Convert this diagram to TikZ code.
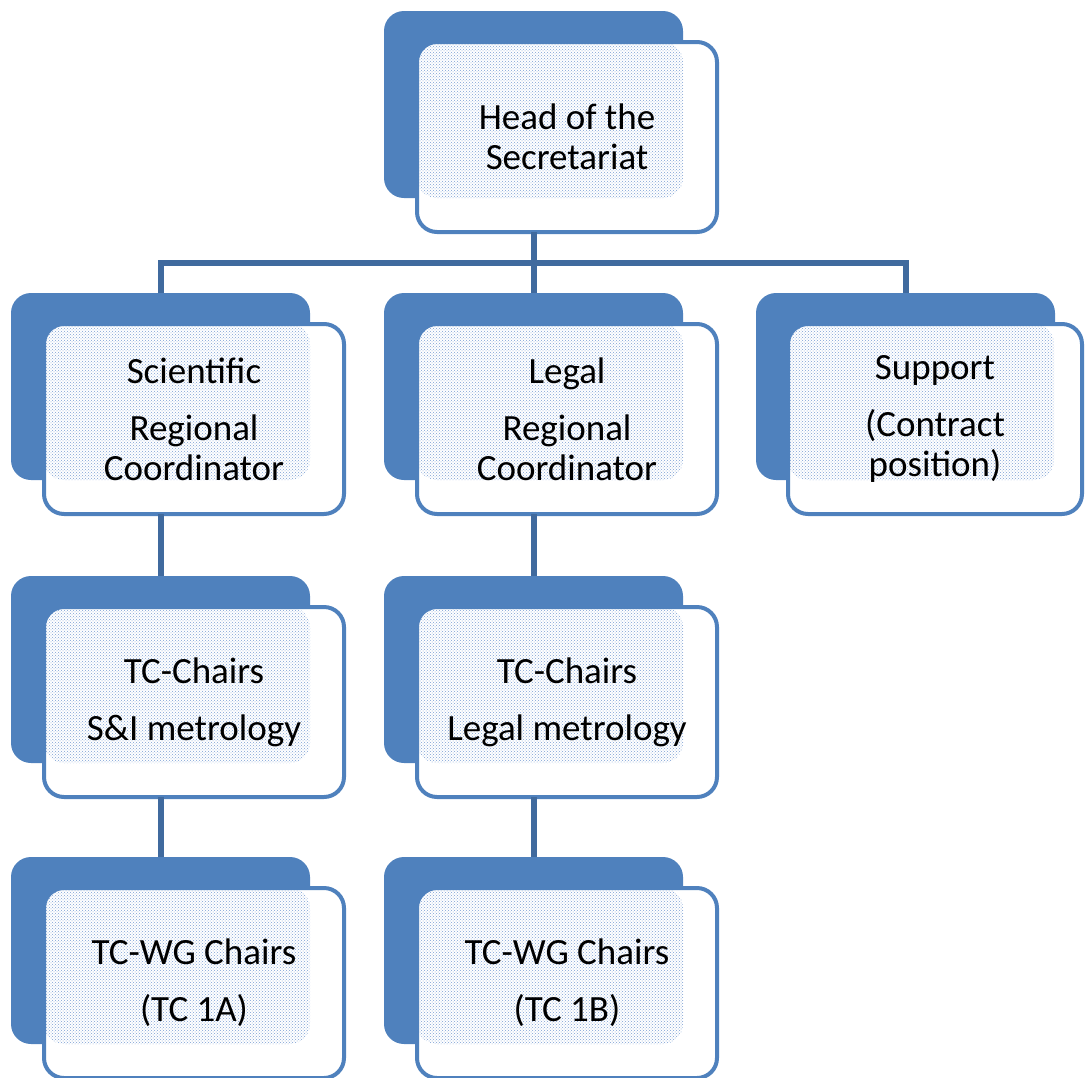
\documentclass[tikz,border=0pt]{standalone}
\usepackage{fontspec}
\setmainfont{Carlito}
\usetikzlibrary{patterns}

\definecolor{boxblue}{RGB}{79,129,189}
\definecolor{linkblue}{RGB}{64,106,158}
\definecolor{dotblue}{RGB}{125,160,212}

\tikzset{
    backbox/.style={fill=boxblue, rounded corners=20pt, minimum width=299pt, minimum height=187pt, inner sep=0pt, outer sep=0pt, anchor=north west},
    frontbox/.style={draw=boxblue, line width=4pt, fill=white, rounded corners=20pt, minimum width=300pt, minimum height=190pt, inner sep=0pt, outer sep=0pt, anchor=north west, align=center, font=\fontsize{37}{40}\selectfont,
        path picture={\fill[pattern=crosshatch dots, pattern color=dotblue, rounded corners=20pt] (path picture bounding box.north west) rectangle ++(266pt,-156pt);}},
    link/.style={draw=linkblue, line width=6pt},
}

\begin{document}
\begin{tikzpicture}[x=1pt, y=-1pt]
        \useasboundingbox (0,0) rectangle (1085,1077);
        % top
        \node[backbox] (headb) at (384,11) {};
        \node[frontbox] (head) at (417,42) {Head of the\\Secretariat};
        % second row
        \node[backbox] (scib) at (11,293) {};
        \node[frontbox] (sci) at (44,324) {Scientific\\[17pt]Regional\\Coordinator};
        \node[backbox] (legalb) at (384,293) {};
        \node[frontbox] (legal) at (417,324) {Legal\\[17pt]Regional\\Coordinator};
        \node[backbox] (suppb) at (756,293) {};
        \node[frontbox, minimum width=294pt] (supp) at (788,324) {Support\\[17pt](Contract\\position)};
        % third row
        \node[backbox] (tcsib) at (11,576) {};
        \node[frontbox] (tcsi) at (44,607) {TC-Chairs\\[17pt]S\&I metrology};
        \node[backbox] (tclmb) at (384,576) {};
        \node[frontbox] (tclm) at (417,607) {TC-Chairs\\[17pt]Legal metrology};
        % bottom row
        \node[backbox] (wgab) at (11,857) {};
        \node[frontbox] (wga) at (44,888) {TC-WG Chairs\\[17pt](TC 1A)};
        \node[backbox] (wgbb) at (384,857) {};
        \node[frontbox] (wgb) at (417,888) {TC-WG Chairs\\[17pt](TC 1B)};

        \coordinate (bus) at (0,263);
        \draw[link] (head.south -| headb.center) -- (legalb.north);
        \draw[link] (scib.north) -- (scib.north |- bus) -- (suppb.north |- bus) -- (suppb.north);
        \draw[link] (sci.south -| scib.center) -- (tcsib.north);
        \draw[link] (legal.south -| legalb.center) -- (tclmb.north);
        \draw[link] (tcsi.south -| tcsib.center) -- (wgab.north);
        \draw[link] (tclm.south -| tclmb.center) -- (wgbb.north);
    \end{tikzpicture}
\end{document}
